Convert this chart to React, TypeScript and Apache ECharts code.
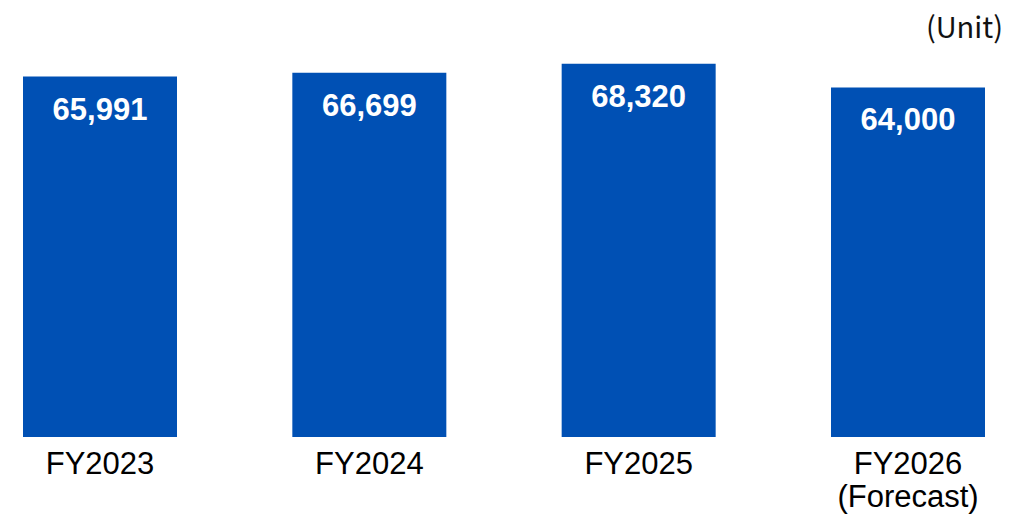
import React, { useEffect, useRef } from "react";
import * as echarts from "echarts";

const categories = ["FY2023", "FY2024", "FY2025", "FY2026\n(Forecast)"];
const values = [65991, 66699, 68320, 64000];
const unitLabel = "(Unit)";

export default function App() {
  const ref = useRef<HTMLDivElement>(null);
  useEffect(() => {
    if (!ref.current) return;
    const chart = echarts.init(ref.current, null, { renderer: "svg" });
    chart.setOption({
      animation: false,
      backgroundColor: "#ffffff",
      grid: { left: 100, right: 109, top: 0, bottom: 79, containLabel: false },
      title: {
        text: unitLabel,
        right: 14,
        top: 8,
        padding: 0,
        textStyle: {
          fontFamily: "Noto Sans CJK JP",
          fontSize: 29,
          lineHeight: 34,
          fontWeight: "normal",
          color: "#111111",
        },
      },
      xAxis: {
        type: "category",
        data: categories,
        boundaryGap: false,
        axisLine: { show: false },
        axisTick: { show: false },
        axisLabel: {
          margin: 10,
          fontFamily: "Liberation Sans",
          fontSize: 31,
          lineHeight: 33,
          color: "#000000",
        },
      },
      yAxis: {
        type: "value",
        min: 0,
        max: 80000,
        show: false,
        splitLine: { show: false },
      },
      series: [
        {
          type: "bar",
          data: values,
          barWidth: 154,
          itemStyle: { color: "#0050B4" },
          label: {
            show: true,
            position: "insideTop",
            distance: 17,
            formatter: (p: any) => Number(p.value).toLocaleString("en-US"),
            fontFamily: "Liberation Sans",
            fontWeight: "bold",
            fontSize: 31,
            color: "#ffffff",
          },
        },
      ],
    });
    return () => chart.dispose();
  }, []);
  return (
    <div
      ref={ref}
      style={{ position: "fixed", left: 0, top: 0, width: 1017, height: 516 }}
    />
  );
}
